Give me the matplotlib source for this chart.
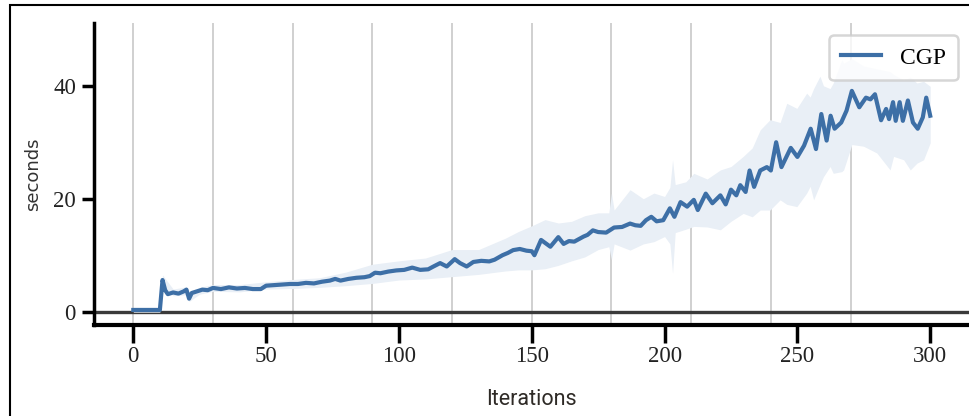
import matplotlib
matplotlib.use("Agg")
import matplotlib.pyplot as plt
from matplotlib.patches import Rectangle

# mean wall-clock time per iteration (vertices of the trace)
iters = [0, 10, 11, 12, 13, 15, 17, 19, 20, 21, 22, 24, 26, 28, 30, 33, 36, 39,
         42, 45, 48, 50, 53, 56, 59, 62, 65, 68, 71, 74, 76, 78, 81, 84, 87, 89,
         91, 93, 96, 99, 102, 105, 108, 111, 113, 115.5, 118, 121, 123, 125.5,
         128, 131, 134, 136, 139, 141, 143, 145.5, 148, 150, 151, 153.5, 157,
         160, 162, 164, 166, 169.5, 171, 173, 175, 178, 181, 184, 187, 189, 191,
         193, 195, 197, 199.5, 202, 203.7, 206, 208.5, 211, 212.5, 215.5, 218,
         221, 223, 225, 227, 228.5, 230.5, 232, 233.7, 236, 238.5, 240, 242,
         244, 247.5, 250, 252.5, 255, 257, 259, 261, 262.5, 264, 266.5, 268.5,
         270.5, 273.3, 275.8, 277.5, 279.2, 281.5, 283.4, 284.5, 286, 287,
         288.5, 289.7, 291.6, 293.5, 295.3, 297.2, 298.5, 300]
seconds = [0.3, 0.3, 5.6, 3.8, 3.1, 3.4, 3.2, 3.6, 3.9, 2.3, 3.3, 3.6, 3.9, 3.8,
           4.2, 4.0, 4.3, 4.1, 4.2, 4.0, 4.0, 4.6, 4.7, 4.8, 4.9, 4.9, 5.1, 5.0,
           5.3, 5.5, 5.8, 5.5, 5.8, 6.0, 6.1, 6.3, 6.9, 6.8, 7.1, 7.3, 7.4, 7.8,
           7.4, 7.5, 8.0, 8.6, 8.0, 9.3, 8.6, 8.0, 8.8, 9.0, 8.9, 9.2, 10.0,
           10.4, 10.9, 11.1, 10.8, 10.7, 10.0, 12.7, 11.5, 13.2, 12.0, 12.5,
           12.4, 13.3, 13.6, 14.4, 14.1, 14.0, 14.9, 15.0, 15.6, 15.3, 15.2,
           16.2, 16.8, 16.0, 16.2, 18.3, 16.8, 19.4, 18.6, 19.8, 18.0, 20.9,
           19.2, 20.6, 19.0, 21.6, 20.6, 22.4, 21.2, 25.0, 22.1, 25.0, 25.6,
           25.0, 30.0, 25.6, 29.0, 27.4, 29.4, 32.4, 28.8, 35.0, 30.3, 34.7,
           32.4, 33.5, 35.6, 39.1, 36.2, 37.9, 37.6, 38.5, 33.9, 35.9, 34.1,
           37.1, 33.8, 37.1, 33.8, 37.4, 33.5, 32.4, 34.4, 37.9, 34.7]

# spread across runs
band_iters = [0, 10, 11, 15, 20, 21, 25, 30, 40, 50, 60, 70, 80, 90, 100, 110,
              120, 130, 140, 145, 150, 155, 160, 165, 170, 175, 179, 180, 181,
              187, 192, 196, 200, 202, 203, 204, 208, 211, 216, 221, 225, 229.6,
              233, 236, 239.7, 243.5, 246, 249.8, 253.5, 254.8, 256.1, 258.5,
              259.8, 262.3, 263.5, 266.7, 267.4, 270.5, 274.9, 279.9, 284.9,
              286.2, 290, 292.5, 295, 297.5, 300]
band_lo = [-0.1, -0.1, 4.5, 2.8, 3.0, 1.8, 3.1, 3.6, 3.5, 4.0, 4.1, 4.3, 4.6,
           5.0, 5.6, 5.8, 6.2, 6.6, 7.2, 7.4, 7.4, 7.6, 8.2, 9.0, 9.7, 11.0,
           11.5, 9.2, 12.0, 10.9, 12.0, 12.4, 13.3, 12.0, 6.8, 14.0, 14.6,
           15.1, 15.0, 14.5, 16.0, 17.4, 16.8, 18.0, 18.0, 19.8, 19.0, 18.6,
           21.0, 22.2, 19.8, 22.5, 23.9, 25.7, 24.5, 24.8, 25.1, 29.6, 29.3,
           28.1, 25.1, 27.5, 26.9, 25.1, 26.3, 26.9, 29.9]
band_hi = [0.6, 0.6, 6.5, 4.0, 4.4, 3.0, 4.3, 4.8, 4.8, 5.3, 5.7, 6.0, 7.0, 8.4,
           9.0, 9.5, 11.0, 11.0, 13.0, 14.2, 15.2, 16.3, 15.7, 16.0, 17.0,
           17.5, 17.5, 21.0, 18.0, 21.6, 20.0, 21.0, 20.4, 22.0, 26.9, 22.5,
           23.0, 24.5, 23.5, 25.1, 25.7, 27.5, 29.0, 32.2, 34.0, 33.5, 36.9,
           36.0, 38.7, 38.0, 39.5, 41.7, 40.0, 39.5, 40.5, 44.6, 44.0, 44.8,
           43.5, 43.0, 42.5, 42.0, 41.0, 41.5, 40.5, 40.8, 39.9]

x_ticks = [0, 50, 100, 150, 200, 250, 300]
y_ticks = [0, 20, 40]
markers = [0, 30, 60, 90, 120, 150, 180, 210, 240, 270]

LINE = "#3d6fa6"
TICK_FONT = "Liberation Serif"

fig = plt.figure(figsize=(9.69, 4.16), dpi=100)
ax = fig.add_axes([0.097, 0.2188, 0.903, 0.7256])

for m in markers:
    ax.axvline(m, color="#c4c4c4", lw=1.1, zorder=0)
ax.axhline(0, color="#3a3a3a", lw=2.4, zorder=1)

ax.fill_between(band_iters, band_lo, band_hi, color="#e9eff6", lw=0, zorder=2)
ax.plot(iters, seconds, color=LINE, lw=3.0, label="CGP", zorder=3,
        solid_joinstyle="round")

ax.set_xlim(-14.8, 314.6)
ax.set_ylim(-2.36, 51.1)
ax.set_xticks(x_ticks)
ax.set_yticks(y_ticks)

for side in ("top", "right"):
    ax.spines[side].set_visible(False)
ax.spines["left"].set_linewidth(2.5)
ax.spines["bottom"].set_linewidth(3.0)
ax.tick_params(axis="y", length=9, width=2.5, pad=4, labelsize=16.5,
               labelcolor="#222222")
ax.tick_params(axis="x", length=13, width=2.5, pad=2, labelsize=16.5,
               labelcolor="#222222")
for lab in ax.get_xticklabels() + ax.get_yticklabels():
    lab.set_fontfamily(TICK_FONT)

ax.set_ylabel("seconds", fontsize=13, color="#333333", family="DejaVu Sans",
              labelpad=8)
ax.set_xlabel("Iterations", fontsize=15.5, color="#2e2a26",
              family=["Roboto", "DejaVu Sans"], labelpad=16)

leg = ax.legend(loc="upper right", bbox_to_anchor=(0.987, 0.96),
                borderaxespad=0, prop={"family": TICK_FONT, "size": 17},
                handlelength=1.7, fancybox=True, framealpha=0.8,
                borderpad=0.5, handletextpad=0.8)
leg.get_frame().set_edgecolor("#cccccc")
leg.get_frame().set_linewidth(1.8)

# frame around the whole figure
fig.patches.append(Rectangle((10 / 969, -0.1), 1.2, 1.1 - 5 / 416,
                             transform=fig.transFigure, fill=False,
                             edgecolor="black", lw=1.5))

fig.savefig("out.png", dpi=100)
